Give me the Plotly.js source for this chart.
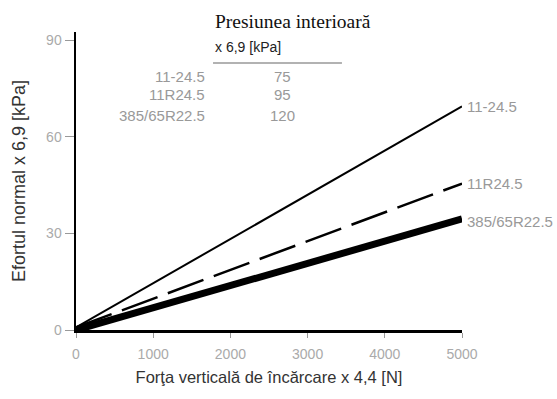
<!DOCTYPE html>
<html><head><meta charset="utf-8">
<script src="https://cdn.plot.ly/plotly-3.0.1.min.js"></script>
<style>html,body{margin:0;padding:0;background:#fff}#c{width:557px;height:399px}</style>
</head><body><div id="c"></div>
<script>
const loadX = [0, 5000];
const tyre1 = [0.8, 69.5];   // 11-24.5
const tyre2 = [0.8, 45.5];   // 11R24.5
const tyre3 = [0.0, 34.5];   // 385/65R22.5
const tyreNames = ['11-24.5', '11R24.5', '385/65R22.5'];
const pressures = ['75', '95', '120'];
const xTicks = [0, 1000, 2000, 3000, 4000, 5000];
const yTicks = [0, 30, 60, 90];

const traces = [
  {x: loadX, y: tyre1, mode: 'lines', line: {color: '#000', width: 2}},
  {x: loadX, y: tyre2, mode: 'lines', line: {color: '#000', width: 2.5, dash: '38px,11px'}},
  {x: loadX, y: tyre3, mode: 'lines', line: {color: '#000', width: 7}}
];
const grey = '#999';
const sans = 'Liberation Sans, Arial';
const ends = [tyre1[1], tyre2[1], tyre3[1]];
const ann = [];
tyreNames.forEach((n, i) => {
  ann.push({x: 5000, y: ends[i], xref: 'x', yref: 'y', text: n, showarrow: false,
    xanchor: 'left', yanchor: 'middle', xshift: 3, yshift: i === 2 ? -3 : 0,
    font: {family: sans, size: 15, color: grey}});
});
ann.push({x: 0.355, y: 1.035, xref: 'paper', yref: 'paper', text: 'Presiunea interioară', showarrow: false,
  xanchor: 'left', yanchor: 'middle', font: {family: 'Liberation Serif, Times New Roman', size: 19.5, color: '#111'}});
ann.push({x: 0.355, y: 0.95, xref: 'paper', yref: 'paper', text: 'x 6,9 [kPa]', showarrow: false,
  xanchor: 'left', yanchor: 'middle', font: {family: sans, size: 14, color: '#222'}});
const rowY = [0.849, 0.789, 0.721];
tyreNames.forEach((n, i) => {
  ann.push({x: 0.339, y: rowY[i], xref: 'paper', yref: 'paper', text: n, showarrow: false,
    xanchor: 'right', yanchor: 'middle', font: {family: sans, size: 15, color: grey}});
  ann.push({x: 0.536, y: rowY[i], xref: 'paper', yref: 'paper', text: pressures[i], showarrow: false,
    xanchor: 'center', yanchor: 'middle', font: {family: sans, size: 15, color: grey}});
});

const layout = {
  width: 557, height: 399,
  margin: {l: 76, r: 95, t: 32, b: 69},
  paper_bgcolor: '#fff', plot_bgcolor: '#fff',
  showlegend: false,
  xaxis: {range: [0, 5000], tickvals: xTicks, ticks: 'outside', ticklen: 5, tickcolor: grey,
    ticklabelstandoff: 5,
    showgrid: false, zeroline: false, showline: true, linecolor: '#000', linewidth: 2.5,
    tickfont: {family: sans, size: 14, color: '#aaa'},
    title: {text: 'Forţa verticală de încărcare x 4,4 [N]', standoff: 10,
      font: {family: sans, size: 16.5, color: '#333'}}},
  yaxis: {range: [0, 92.6], tickvals: yTicks, ticks: 'outside', ticklen: 9, tickcolor: grey,
    showgrid: false, zeroline: false, showline: true, linecolor: '#000', linewidth: 2.5,
    tickfont: {family: sans, size: 14, color: '#aaa'},
    title: {text: 'Efortul normal x 6,9 [kPa]', standoff: 16,
      font: {family: sans, size: 18, color: '#333'}}},
  annotations: ann,
  shapes: [{type: 'line', xref: 'paper', yref: 'paper', x0: 0.355, x1: 0.689, y0: 0.896, y1: 0.896,
    line: {color: '#999', width: 1.5}}]
};
Plotly.newPlot('c', traces, layout, {displayModeBar: false, staticPlot: true});
</script></body></html>
